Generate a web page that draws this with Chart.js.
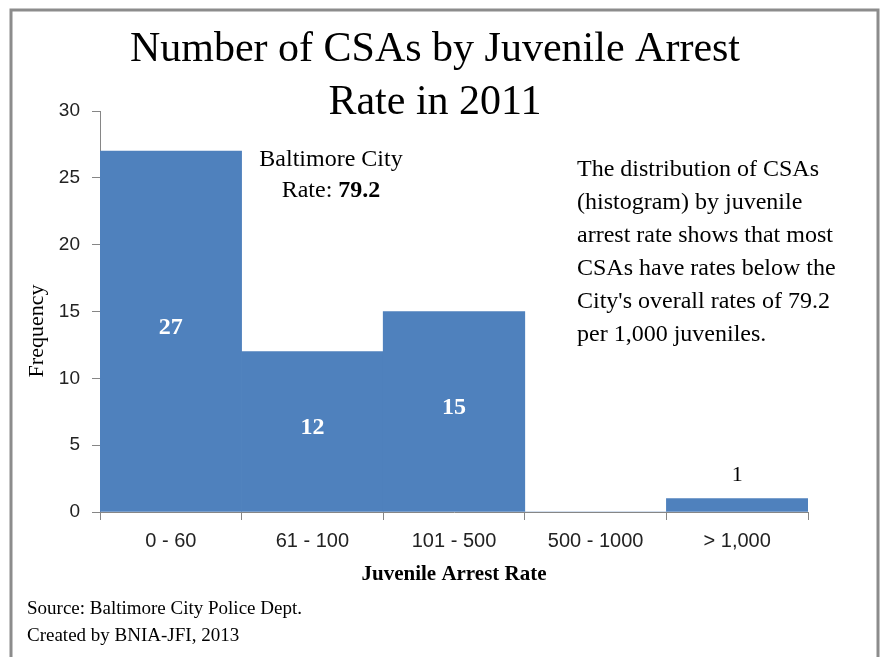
<!DOCTYPE html>
<html>
<head>
<meta charset="utf-8">
<script src="https://cdn.jsdelivr.net/npm/chart.js@4.4.1/dist/chart.umd.min.js"></script>
<style>
  html, body { margin: 0; padding: 0; background: #ffffff; }
  canvas { display: block; }
</style>
</head>
<body>
<canvas id="myChart" width="884" height="657"></canvas>
<script>
// Data
const categories = ["0 - 60", "61 - 100", "101 - 500", "500 - 1000", "> 1,000"];
const frequencies = [27, 12, 15, 0, 1];
const yMin = 0;
const yMax = 30;
const yStep = 5;

const titleLines = ["Number of CSAs by Juvenile Arrest", "Rate in 2011"];
const noteLines = [
  "The distribution of CSAs",
  "(histogram) by juvenile",
  "arrest rate shows that most",
  "CSAs have rates below the",
  "City's overall rates of 79.2",
  "per 1,000 juveniles."
];
const sourceLines = ["Source: Baltimore City Police Dept.", "Created by BNIA-JFI, 2013"];

const serif = "'Liberation Serif', 'DejaVu Serif', serif";
const sans = "'Liberation Sans', Arial, sans-serif";
const axisGray = "#868686";
const barBlue = "#4F81BD";

// draws the frame, title, notes and bar labels on top of the chart
const extrasPlugin = {
  id: "extras",
  afterDraw(chart) {
    const ctx = chart.ctx;
    ctx.save();

    // grey frame round the picture
    ctx.strokeStyle = "#8c8c8c";
    ctx.lineWidth = 3;
    ctx.beginPath();
    ctx.moveTo(11, 657);
    ctx.lineTo(11, 10);
    ctx.lineTo(878, 10);
    ctx.lineTo(878, 657);
    ctx.stroke();

    // title
    ctx.fillStyle = "#000000";
    ctx.textAlign = "center";
    ctx.textBaseline = "middle";
    ctx.font = "42px " + serif;
    ctx.fillText(titleLines[0], 435, 50);
    ctx.fillText(titleLines[1], 435, 103);

    // y axis title
    ctx.save();
    ctx.translate(37, 331);
    ctx.rotate(-Math.PI / 2);
    ctx.font = "22px " + serif;
    ctx.fillText("Frequency", 0, 0);
    ctx.restore();

    // x axis title
    ctx.font = "bold 21px " + serif;
    ctx.fillText("Juvenile Arrest Rate", 454, 575);

    // Baltimore City rate note
    ctx.font = "24px " + serif;
    ctx.fillText("Baltimore City", 331, 160);
    ctx.textAlign = "left";
    let a = "Rate: ";
    let b = "79.2";
    let wa = ctx.measureText(a).width;
    ctx.font = "bold 24px " + serif;
    let wb = ctx.measureText(b).width;
    let sx = 331 - (wa + wb) / 2;
    ctx.font = "24px " + serif;
    ctx.fillText(a, sx, 191);
    ctx.font = "bold 24px " + serif;
    ctx.fillText(b, sx + wa, 191);

    // explanation text on the right
    ctx.font = "24px " + serif;
    for (let i = 0; i < noteLines.length; i++) {
      ctx.fillText(noteLines[i], 577, 170 + i * 33);
    }

    // source lines
    ctx.font = "19px " + serif;
    for (let i = 0; i < sourceLines.length; i++) {
      ctx.fillText(sourceLines[i], 27, 609 + i * 27);
    }

    // bar value labels
    const meta = chart.getDatasetMeta(0);
    ctx.textAlign = "center";
    for (let i = 0; i < meta.data.length; i++) {
      const v = frequencies[i];
      if (!v) continue;
      const bar = meta.data[i];
      if (v >= 5) {
        ctx.fillStyle = "#ffffff";
        ctx.font = "bold 24px " + serif;
        ctx.fillText(String(v), bar.x, (bar.y + bar.base) / 2 - 4);
      } else {
        ctx.fillStyle = "#000000";
        ctx.font = "22px " + serif;
        ctx.fillText(String(v), bar.x, bar.y - 23);
      }
    }

    ctx.restore();
  }
};

const data = {
  labels: categories,
  datasets: [
    {
      label: "Frequency",
      data: frequencies,
      backgroundColor: barBlue,
      borderWidth: 0,
      barPercentage: 1.0,
      categoryPercentage: 1.0
    }
  ]
};

const config = {
  type: "bar",
  data: data,
  options: {
    responsive: false,
    animation: false,
    layout: {
      padding: { left: 0, top: 111, right: 76, bottom: 0 }
    },
    plugins: {
      legend: { display: false },
      tooltip: { enabled: false }
    },
    scales: {
      x: {
        afterFit(scale) { scale.height = 145; },
        grid: {
          offset: true,
          drawOnChartArea: false,
          tickLength: 8,
          color: axisGray
        },
        border: { color: axisGray, width: 1 },
        ticks: {
          color: "#222222",
          padding: 9,
          font: { family: sans, size: 20 }
        }
      },
      y: {
        min: yMin,
        max: yMax,
        afterFit(scale) { scale.width = 100; },
        grid: {
          drawOnChartArea: false,
          tickLength: 8,
          color: axisGray
        },
        border: { color: axisGray, width: 1 },
        ticks: {
          stepSize: yStep,
          color: "#222222",
          padding: 12,
          font: { family: sans, size: 19 }
        }
      }
    }
  },
  plugins: [extrasPlugin]
};

const canvasChart = document.getElementById("myChart").getContext("2d");
const myChart = new Chart(canvasChart, config);
</script>
</body>
</html>
